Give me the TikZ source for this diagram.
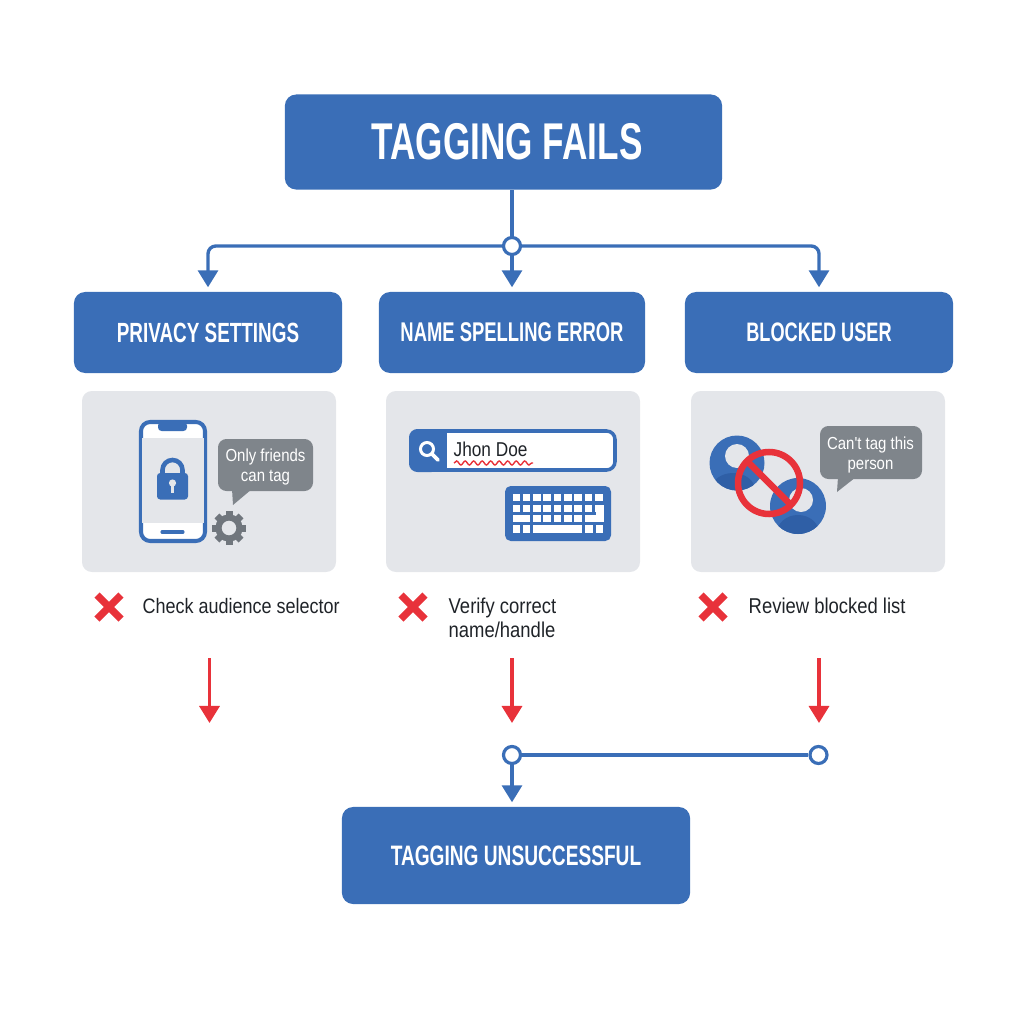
\documentclass[tikz,border=0pt]{standalone}
\usepackage{fontspec}
\setmainfont{Liberation Sans}
\newfontfamily\headfont[FakeStretch=0.68]{Liberation Sans}
\newfontfamily\bodyfont[FakeStretch=0.86]{Liberation Sans}
\usetikzlibrary{arrows.meta,calc,decorations.pathmorphing}
\definecolor{tagblue}{HTML}{3A6EB7}
\definecolor{tagdark}{HTML}{2F5FA6}
\definecolor{tagred}{HTML}{E8323A}
\definecolor{tagpanel}{HTML}{E4E6EA}
\definecolor{taggrey}{HTML}{7F858B}
\definecolor{taggear}{HTML}{70767D}
\definecolor{taginkk}{HTML}{1F2328}
\tikzset{
	headbox/.style={fill=tagblue, text=white, rounded corners=3.2pt, inner sep=0pt, font=\headfont\bfseries},
	panelbox/.style={fill=tagpanel, rounded corners=2.8pt},
	hub/.style={circle, draw=tagblue, fill=white, line width=0.9pt, minimum size=0.17cm, inner sep=0pt},
	flow/.style={draw=tagblue, line width=0.95pt, rounded corners=2.2pt, -{Triangle[width=0.2cm,length=0.17cm]}},
	plainflow/.style={draw=tagblue, line width=0.95pt},
	failflow/.style={draw=tagred, line width=0.95pt, -{Triangle[width=0.2cm,length=0.17cm]}},
	tiptext/.style={text=taginkk, font=\bodyfont\fontsize{6.1}{6.9}\selectfont, align=left, inner sep=0pt},
	bubbletext/.style={text=white, font=\bodyfont\fontsize{4.95}{5.5}\selectfont, align=center, inner sep=0pt},
}
\def\failcross(#1,#2){\draw[tagred, line width=2.1pt] (#1-12,#2-12) -- (#1+12,#2+12) (#1-12,#2+12) -- (#1+12,#2-12);}

\begin{document}
\begin{tikzpicture}[x=0.01cm, y=-0.01cm]
		\useasboundingbox (0,0) rectangle (1024,1024);
		
		%%%%% BOXES %%%%%
		\node[headbox, minimum width=4.37cm, minimum height=0.95cm, font=\headfont\bfseries\fontsize{14.7}{14.7}\selectfont] (title) at (503.5,142) {\hspace*{0.07cm}TAGGING FAILS};
		\node[headbox, minimum width=2.68cm, minimum height=0.81cm, font=\headfont\bfseries\fontsize{7.9}{8}\selectfont] (privacy) at (208,332.5) {PRIVACY SETTINGS};
		\node[headbox, minimum width=2.66cm, minimum height=0.81cm, font=\headfont\bfseries\fontsize{7.7}{8}\selectfont] (spelling) at (512,332.5) {NAME SPELLING ERROR};
		\node[headbox, minimum width=2.68cm, minimum height=0.81cm, font=\headfont\bfseries\fontsize{7.6}{8}\selectfont] (blocked) at (819,332.5) {BLOCKED USER};
		\node[headbox, minimum width=3.48cm, minimum height=0.97cm, font=\headfont\bfseries\fontsize{8}{8}\selectfont] (result) at (516,855.5) {TAGGING UNSUCCESSFUL};
		
		%%%%% TOP CONNECTORS %%%%%
		\node[hub] (hubtop) at (512,246) {};
		\draw[plainflow] (hubtop|-title.south) -- (hubtop);
		\draw[flow, shorten >=0.04cm] (hubtop) -| (privacy.north);
		\draw[flow, shorten >=0.04cm] (hubtop) -- (spelling.north);
		\draw[flow, shorten >=0.04cm] (hubtop) -| (blocked.north);
		
		%%%%% PANELS %%%%%
		\fill[panelbox] (82,391) rectangle (336,572);
		\fill[panelbox] (386,391) rectangle (640,572);
		\fill[panelbox] (691,391) rectangle (945,572);
		
		%%%%% PHONE %%%%%
		\draw[draw=tagblue, fill=white, line width=1.15pt, rounded corners=2.6pt] (141,422) rectangle (205,541);
		\fill[tagpanel] (142,438) rectangle (204,523);
		\fill[tagblue, rounded corners=1pt] (158,422) rectangle (187,431);
		\draw[tagblue, line width=0.9pt, line cap=round] (162,532) -- (183,532);
		\draw[tagblue, line width=1.3pt] (162.5,475) -- (162.5,470) arc (180:360:10) -- (182.5,475);
		\fill[tagblue, rounded corners=0.9pt] (157,473) rectangle (188,499.5);
		\fill[tagpanel] (172.5,483) circle (3.6);
		\fill[tagpanel] (171,484) rectangle (174,493);
		
		\fill[taggrey, rounded corners=2.4pt] (218,439) rectangle (313,491);
		\fill[taggrey] (232,489) -- (233,505) -- (252,489) -- cycle;
		\node[bubbletext] (friends) at (265.5,467) {Only friends\\can tag};
		
		\foreach \a in {0,45,...,315}{
			\fill[taggear, rotate around={\a:(229,528)}] (225.5,511) rectangle (232.5,520);
		}
		\draw[taggear, line width=1.75pt] (229,528) circle (10.5);
		
		%%%%% SEARCH AND KEYBOARD %%%%%
		\draw[draw=tagblue, fill=white, line width=1pt, rounded corners=2.4pt] (411,431) rectangle (615,470);
		\fill[tagblue, rounded corners=2.4pt] (409,429) rectangle (440,472);
		\fill[tagblue] (430,429) rectangle (447,472);
		\draw[white, line width=0.85pt] (427,449) circle (6.5);
		\draw[white, line width=1.05pt, line cap=round] (432,454) -- (438,460);
		\node[text=taginkk, font=\bodyfont\fontsize{5.7}{5.7}\selectfont, inner sep=0pt, anchor=west] (jhon) at (453,449.5) {Jhon Doe};
		\draw[tagred, line width=0.4pt, decorate, decoration={snake, amplitude=0.02cm, segment length=0.085cm}] (454,463) -- (533,463);
		
		\fill[tagblue, rounded corners=1.6pt] (505,486) rectangle (611,541);
		\foreach \ky in {494,504.5}{
			\foreach \c in {0,...,8}{
				\fill[white] ({512.5+10.3*\c},\ky) rectangle ++(7.6,7.4);
			}
		}
		\foreach \c in {2,...,6}{
			\fill[white] ({512.5+10.3*\c},515) rectangle ++(7.6,7.4);
		}
		\fill[white] (512.5,515) rectangle (529.5,522.4);
		\fill[white] (585,515) rectangle (604,522.4);
		\fill[white] (596.4,504.5) rectangle (604,522.4);
		\foreach \kx in {512.5,522.8,585,595.5}{
			\fill[white] (\kx,525) rectangle ++(7.6,7.6);
		}
		\fill[white] (533,525) rectangle (582,532.6);
		
		%%%%% BLOCKED USERS %%%%%
		\fill[tagblue] (737,463) circle (27.5);
		\begin{scope}
			\clip (737,463) circle (27.5);
			\fill[tagdark] (733,490) ellipse (22 and 17);
		\end{scope}
		\fill[tagpanel] (737,456) circle (12);
		\fill[tagblue] (798,506) circle (28);
		\begin{scope}
			\clip (798,506) circle (28);
			\fill[tagdark] (798,533) ellipse (21 and 18);
		\end{scope}
		\fill[tagpanel] (801,500) circle (12);
		\draw[tagred, line width=1.85pt] (769,483) circle (31);
		\draw[tagred, line width=1.85pt] (748,462) -- (790,504);
		
		\fill[taggrey, rounded corners=2.4pt] (820,426) rectangle (922,479);
		\fill[taggrey] (838,477) -- (837,492) -- (856,477) -- cycle;
		\node[bubbletext] (cantag) at (870.5,455) {Can't tag this\\person};
		
		%%%%% TIPS %%%%%
		\failcross(109,607)
		\failcross(413,607)
		\failcross(713,607)
		\node[tiptext, anchor=west, font=\bodyfont\fontsize{5.95}{6.9}\selectfont] (audience) at (142,606) {Check audience selector};
		\node[tiptext, anchor=west] (verify) at (448,618) {Verify correct\\name/handle};
		\node[tiptext, anchor=west] (review) at (748,606) {Review blocked list};
		
		%%%%% BOTTOM CONNECTORS %%%%%
		\coordinate (failaup) at (209.5,658);
		\coordinate (failadown) at (209.5,723);
		\coordinate (failbup) at (512,658);
		\coordinate (failbdown) at (512,723);
		\coordinate (failcup) at (819,658);
		\coordinate (failcdown) at (819,723);
		\draw[failflow] (failaup) -- (failadown);
		\draw[failflow] (failbup) -- (failbdown);
		\draw[failflow] (failcup) -- (failcdown);
		
		\node[hub] (hubleft) at (512,755) {};
		\node[hub] (hubright) at (818.5,755) {};
		\draw[plainflow] (hubleft) -- (hubright);
		\draw[flow, shorten >=0.04cm] (hubleft) -- (hubleft|-result.north);
\end{tikzpicture}
\end{document}
